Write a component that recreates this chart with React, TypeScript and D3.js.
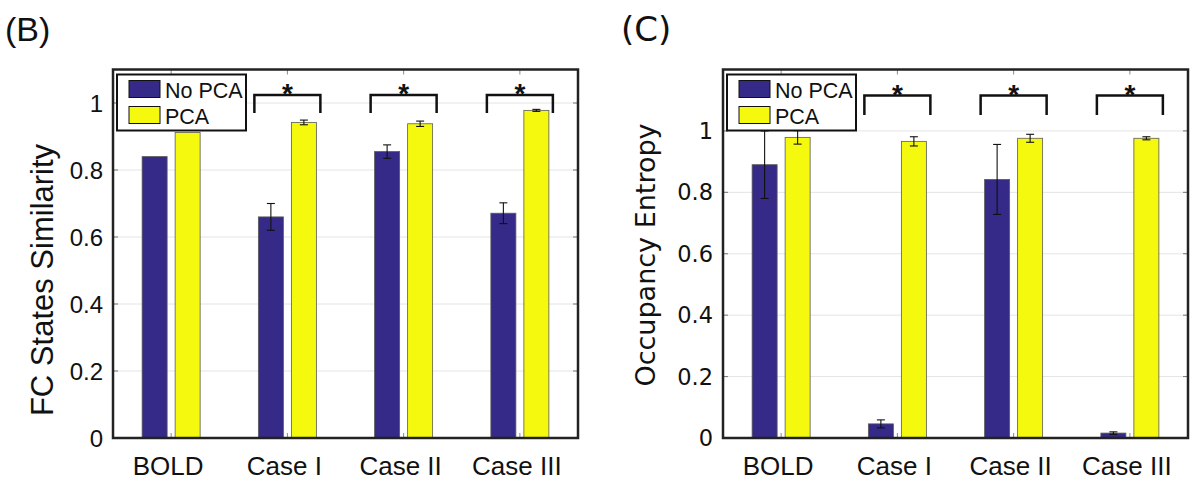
import * as d3 from "d3";

const categories = ["BOLD", "Case I", "Case II", "Case III"];
const seriesNames = ["No PCA", "PCA"];
const seriesColors = ["#352a87", "#f5f90e"];

// (B) FC states similarity
const fcNoPca = [0.84, 0.66, 0.855, 0.671];
const fcNoPcaErr = [0, 0.04, 0.02, 0.031];
const fcPca = [0.912, 0.942, 0.938, 0.978];
const fcPcaErr = [0, 0.007, 0.008, 0.003];
const fcTicks = [0, 0.2, 0.4, 0.6, 0.8, 1];

// (C) occupancy entropy
const entNoPca = [0.89, 0.046, 0.842, 0.016];
const entNoPcaErr = [0.11, 0.013, 0.114, 0.004];
const entPca = [0.979, 0.966, 0.976, 0.976];
const entPcaErr = [0.022, 0.015, 0.013, 0.005];
const entTicks = [0, 0.2, 0.4, 0.6, 0.8, 1];

// significance brackets (categories marked with *)
const starred = ["Case I", "Case II", "Case III"];

const W = 1194;
const H = 480;
const TOP = 69.5;
const BOTTOM = 438;
const PLOT_W = 465;
const SANS = "'Liberation Sans', Arial, sans-serif";
const DEJAVU = "'DejaVu Sans', sans-serif";

interface PanelProps {
  left: number;
  tag: string;
  yLabel: string;
  yMax: number;
  ticks: number[];
  values: number[][];
  errors: number[][];
  bracketTop: number;
  bracketEnd: number;
  labelFont: string;
  labelX: number;
  labelY: number;
  labelSize: number;
  tickFont: string;
  tickSize: number;
  tagX: number;
  tagFont: string;
  tagSize: number;
}

function Panel(p: PanelProps) {
  const x = d3.scaleBand().domain(categories).range([p.left, p.left + PLOT_W]);
  const step = x.bandwidth();
  const inner = d3
    .scaleBand()
    .domain(seriesNames)
    .range([step / 2 - 33, step / 2 + 33])
    .paddingInner(8 / 33)
    .paddingOuter(0.121);
  const y = d3.scaleLinear().domain([0, p.yMax]).range([BOTTOM, TOP]);
  const right = p.left + PLOT_W;
  const fmt = (v: number) => (v === 0 ? "0" : v === 1 ? "1" : d3.format(".1f")(v));

  return (
    <g>
      <text x={p.tagX} y={41} fontFamily={p.tagFont} fontSize={p.tagSize} fill="#111">
        {p.tag}
      </text>

      {/* grid */}
      {p.ticks.slice(1).map((t) => (
        <line key={"g" + t} x1={p.left} x2={right} y1={y(t)} y2={y(t)} stroke="#e4e4e4" strokeWidth={1} />
      ))}

      {/* bars */}
      {categories.map((c, i) =>
        seriesNames.map((s, j) => {
          const bx = (x(c) ?? 0) + (inner(s) ?? 0);
          const v = p.values[j][i];
          const e = p.errors[j][i];
          const cx = bx + inner.bandwidth() / 2;
          return (
            <g key={c + s}>
              <rect
                x={bx}
                y={y(v)}
                width={inner.bandwidth()}
                height={BOTTOM - y(v)}
                fill={seriesColors[j]}
                stroke="#5a5a5a"
                strokeWidth={0.8}
              />
              {e > 0 && (
                <g stroke="#111" strokeWidth={1.1}>
                  <line x1={cx} x2={cx} y1={y(v - e)} y2={y(v + e)} />
                  <line x1={cx - 4} x2={cx + 4} y1={y(v - e)} y2={y(v - e)} />
                  <line x1={cx - 4} x2={cx + 4} y1={y(v + e)} y2={y(v + e)} />
                </g>
              )}
            </g>
          );
        })
      )}

      {/* ticks */}
      {p.ticks.map((t) => (
        <g key={"t" + t}>
          <line x1={p.left} x2={p.left + 5} y1={y(t)} y2={y(t)} stroke="#777" />
          <line x1={right - 5} x2={right} y1={y(t)} y2={y(t)} stroke="#777" />
          <text
            x={p.left - 10}
            y={y(t)}
            dy="0.36em"
            textAnchor="end"
            fontFamily={p.tickFont}
            fontSize={p.tickSize}
            fill="#111"
          >
            {fmt(t)}
          </text>
        </g>
      ))}
      {categories.map((c) => {
        const cx = (x(c) ?? 0) + step / 2;
        return (
          <g key={"x" + c}>
            <line x1={cx} x2={cx} y1={BOTTOM} y2={BOTTOM - 5} stroke="#888" />
            <line x1={cx} x2={cx} y1={TOP} y2={TOP + 5} stroke="#888" />
            <text x={cx - 3} y={475} textAnchor="middle" fontFamily={SANS} fontSize={26} fill="#111">
              {c}
            </text>
          </g>
        );
      })}

      {/* brackets */}
      {starred.map((c) => {
        const x0 = (x(c) ?? 0) + step / 2 - 33;
        const x1 = (x(c) ?? 0) + step / 2 + 33;
        const yt = y(p.bracketTop);
        const ye = y(p.bracketEnd);
        return (
          <g key={"b" + c}>
            <path d={`M${x0},${ye}V${yt}H${x1}V${ye}`} fill="none" stroke="#111" strokeWidth={2.5} />
            <text
              x={(x0 + x1) / 2}
              y={yt + 8}
              textAnchor="middle"
              fontFamily={SANS}
              fontWeight="bold"
              fontSize={28}
              fill="#111"
            >
              *
            </text>
          </g>
        );
      })}

      {/* frame */}
      <rect x={p.left} y={TOP} width={PLOT_W} height={BOTTOM - TOP} fill="none" stroke="#222" strokeWidth={2.5} />

      {/* legend */}
      <g transform={`translate(${p.left + 4},${TOP + 5})`}>
        <rect x={0} y={0} width={129} height={56} fill="#fff" stroke="#111" strokeWidth={2} />
        {seriesNames.map((s, j) => (
          <g key={"l" + s} transform={`translate(0,${j * 26})`}>
            <rect x={12} y={6} width={31} height={17} fill={seriesColors[j]} stroke="#111" strokeWidth={1} />
            <text x={48} y={23} fontFamily={SANS} fontSize={21.5} fill="#111">
              {s}
            </text>
          </g>
        ))}
      </g>

      {/* y label */}
      <text
        transform={`translate(${p.labelX},${p.labelY}) rotate(-90)`}
        textAnchor="middle"
        fontFamily={p.labelFont}
        fontSize={p.labelSize}
        fill="#111"
      >
        {p.yLabel}
      </text>
    </g>
  );
}

export default function App() {
  return (
    <svg
      width={W}
      height={H}
      viewBox={`0 0 ${W} ${H}`}
      style={{ position: "absolute", left: 0, top: 0, background: "#fff" }}
    >
      <rect width={W} height={H} fill="#fff" />
      <Panel
        left={113}
        tag="(B)"
        tagX={5}
        tagFont={SANS}
        tagSize={34}
        yLabel="FC States Similarity"
        yMax={1.1}
        ticks={fcTicks}
        values={[fcNoPca, fcPca]}
        errors={[fcNoPcaErr, fcPcaErr]}
        bracketTop={1.024}
        bracketEnd={0.97}
        labelFont={SANS}
        labelX={53}
        labelY={280}
        labelSize={31}
        tickFont={SANS}
        tickSize={24}
      />
      <Panel
        left={723}
        tag="(C)"
        tagX={621}
        tagFont={DEJAVU}
        tagSize={34}
        yLabel="Occupancy Entropy"
        yMax={1.2}
        ticks={entTicks}
        values={[entNoPca, entPca]}
        errors={[entNoPcaErr, entPcaErr]}
        bracketTop={1.115}
        bracketEnd={1.052}
        labelFont={DEJAVU}
        labelX={655}
        labelY={255}
        labelSize={27}
        tickFont={DEJAVU}
        tickSize={22.5}
      />
    </svg>
  );
}
